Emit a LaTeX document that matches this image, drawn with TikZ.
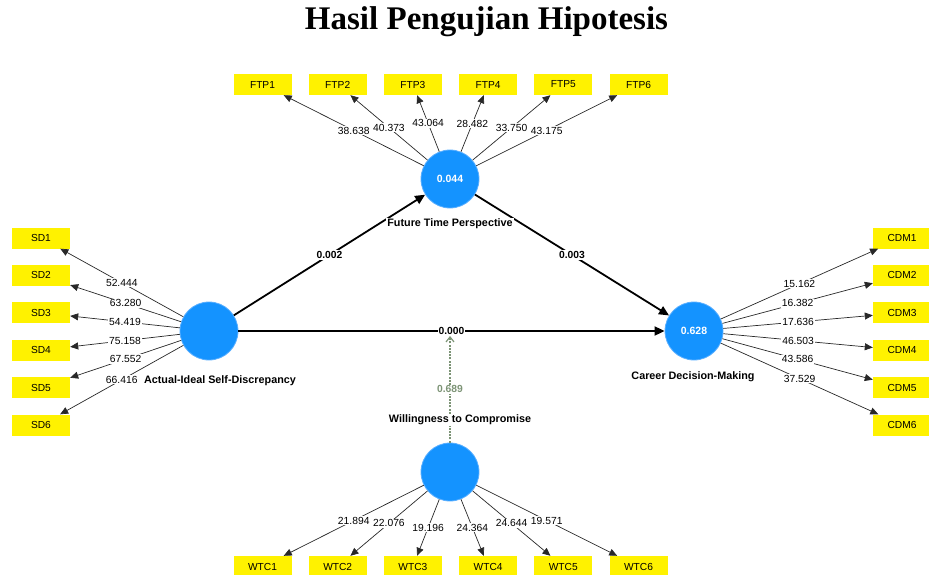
\documentclass[tikz,border=0pt]{standalone}
\usepackage{fontspec}
\setmainfont{Liberation Sans}
\newfontfamily\titlefont{Liberation Serif}
\usetikzlibrary{arrows.meta}
\definecolor{lvblue}{RGB}{20,147,255}
\definecolor{lvring}{RGB}{90,175,255}
\definecolor{modgreen}{RGB}{125,148,118}
\definecolor{loadgray}{RGB}{40,40,40}
\tikzset{
  lv/.style={circle, fill=lvblue, draw=lvring, line width=0.8pt, minimum size=58pt, inner sep=0pt,
    font=\fontsize{10.5}{12}\selectfont\bfseries, text=white},
  ind/.style={rectangle, fill=yellow, minimum width=58pt, minimum height=21pt, inner sep=0pt,
    font=\fontsize{10.2}{12}\selectfont},
  lvname/.style={fill=white, inner sep=1pt, font=\fontsize{10.8}{12}\selectfont\bfseries},
  ld/.style={draw=loadgray, line width=0.7pt, -{Triangle[length=8pt,width=7pt]}},
  lbl/.style={fill=white, inner sep=1pt, font=\fontsize{10.3}{12}\selectfont},
  pth/.style={draw=black, line width=1.8pt, -{Triangle[length=10pt,width=9pt]}},
  plbl/.style={fill=white, inner sep=1pt, font=\fontsize{10.3}{12}\selectfont\bfseries},
  modarrow/.style={draw=modgreen, line width=1.2pt, dash pattern=on 2pt off 1.2pt, -{Straight Barb[length=5pt,width=8pt]}},
}
\begin{document}
\begin{tikzpicture}[x=1pt,y=-1pt]
\useasboundingbox (0,0) rectangle (929,575);
\node[anchor=base, font=\titlefont\fontsize{33}{36}\selectfont\bfseries] (title) at (486.5,30) {Hasil Pengujian Hipotesis};

% latent variables
\node[lv] (ftp) at (450,179) {0.044};
\node[lv] (sd) at (209,331) {};
\node[lv] (cdm) at (694,331) {0.628};
\node[lv] (wtc) at (450,472) {};

% indicators
\foreach \i in {1,...,6} {
  \pgfmathsetmacro{\xx}{262.5+75.2*(\i-1)}
  \pgfmathsetmacro{\yy}{238+37.4*(\i-1)}
  \node[ind] (ftp\i) at (\xx,84.5) {FTP\i};
  \node[ind] (wtc\i) at (\xx,566.5) {WTC\i};
  \node[ind] (sd\i) at (41,\yy) {SD\i};
  \node[ind] (cdm\i) at (902,\yy) {CDM\i};
}

% loadings
\foreach \i/\v in {1/38.638,2/40.373,3/43.064,4/28.482,5/33.750,6/43.175}
  \draw[ld] (ftp) -- node[lbl] {\v} (ftp\i);
\foreach \i/\v in {1/21.894,2/22.076,3/19.196,4/24.364,5/24.644,6/19.571}
  \draw[ld] (wtc) -- node[lbl] {\v} (wtc\i);
\foreach \i/\v in {1/52.444,2/63.280,3/54.419,4/75.158,5/67.552,6/66.416}
  \draw[ld] (sd) -- node[lbl] {\v} (sd\i);
\foreach \i/\v in {1/15.162,2/16.382,3/17.636,4/46.503,5/43.586,6/37.529}
  \draw[ld] (cdm) -- node[lbl] {\v} (cdm\i);

% structural paths
\draw[pth] (sd) -- node[plbl] {0.002} (ftp);
\draw[pth] (ftp) -- node[plbl] {0.003} (cdm);
\draw[pth] (sd) -- node[plbl] {0.000} (cdm);

% moderating effect
\coordinate (mod) at (450,336);
\draw[modarrow] (wtc) -- node[fill=white, inner sep=1pt, text=modgreen, font=\fontsize{10.3}{12}\selectfont\bfseries] {0.689} (mod);

% construct names
\node[lvname] (ftpname) at (450,224) {Future Time Perspective};
\node[lvname] (sdname) at (220,381) {Actual-Ideal Self-Discrepancy};
\node[lvname] (cdmname) at (693,377) {Career Decision-Making};
\node[lvname] (wtcname) at (460,420) {Willingness to Compromise};
\end{tikzpicture}
\end{document}
